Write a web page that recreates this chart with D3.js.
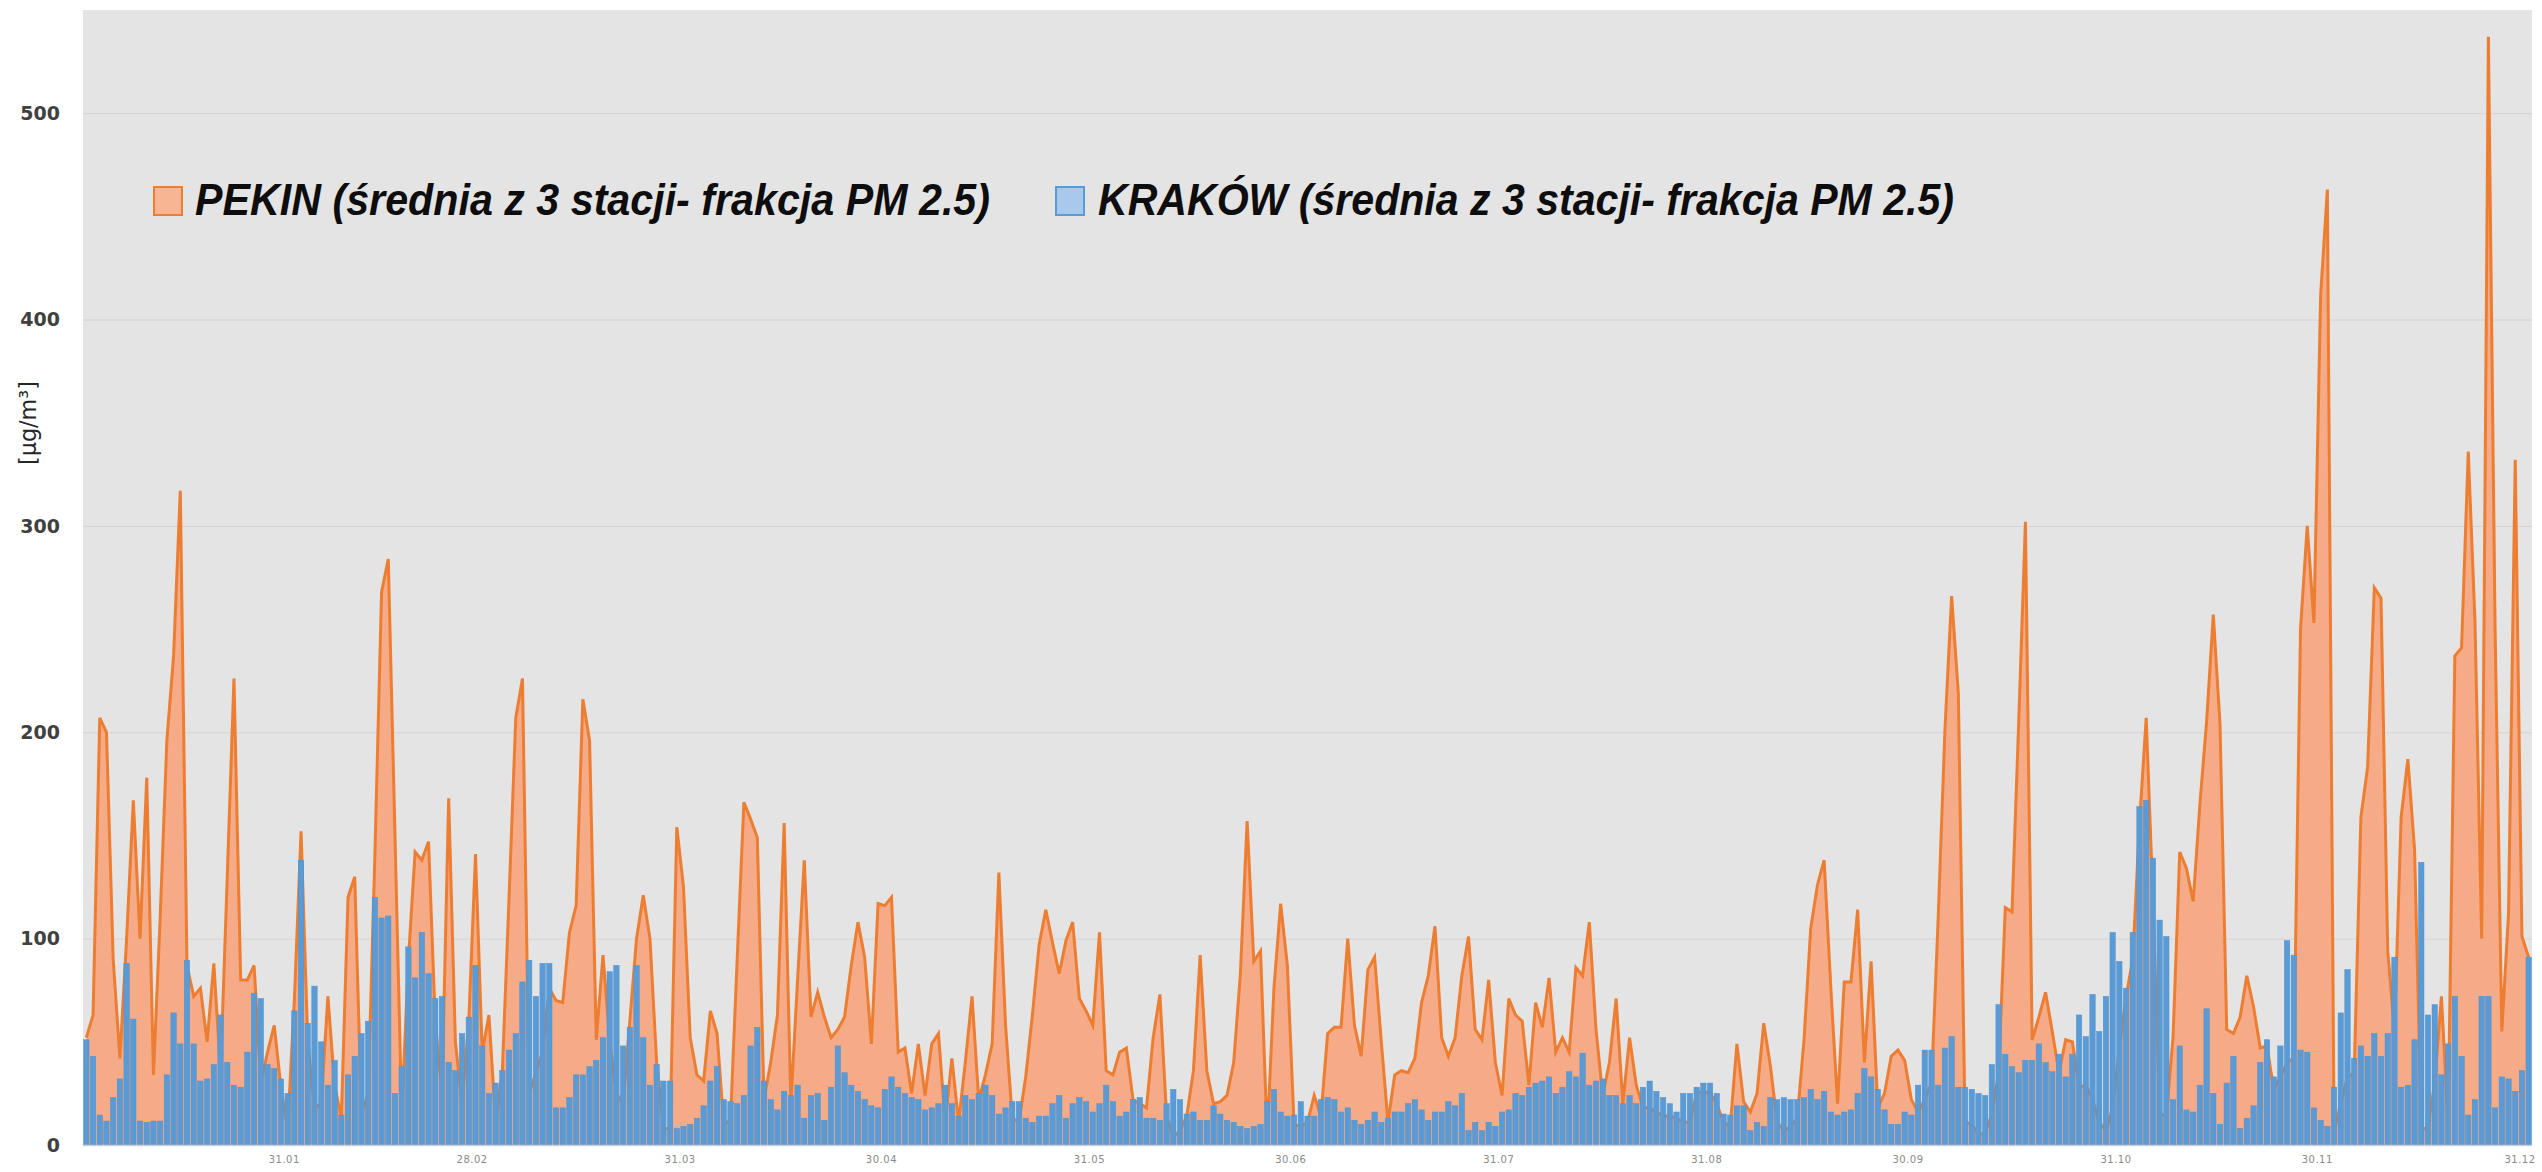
<!DOCTYPE html>
<html>
<head>
<meta charset="utf-8">
<script src="https://cdn.jsdelivr.net/npm/d3@7/dist/d3.min.js"></script>
<style>
body { margin: 0; background: #fff; }
svg { display: block; }
</style>
</head>
<body>
<svg id="chart" width="2542" height="1172"></svg>
<script>
// daily PM2.5, one value per day of the year
var pekin = [
  52, 63, 207, 200, 90, 42, 100, 167, 100, 178, 34, 110, 196, 237, 317, 87, 72, 76, 50, 88,
  35, 130, 226, 80, 80, 87, 30, 45, 58, 28, 8, 70, 152, 50, 18, 20, 72, 29, 13, 120,
  130, 15, 25, 140, 268, 284, 150, 15, 90, 142, 138, 147, 60, 25, 168, 50, 20, 60, 141, 45,
  63, 11, 36, 120, 207, 226, 25, 35, 45, 76, 70, 69, 103, 116, 216, 196, 51, 92, 50, 25,
  20, 60, 100, 121, 100, 40, 8, 8, 154, 125, 52, 34, 31, 65, 54, 10, 12, 90, 166, 158,
  149, 22, 40, 63, 156, 20, 80, 138, 62, 74, 62, 52, 56, 62, 87, 108, 91, 49, 117, 116,
  120, 45, 47, 25, 49, 24, 49, 54, 11, 42, 11, 40, 72, 22, 34, 49, 132, 58, 13, 11,
  33, 63, 97, 114, 98, 83, 99, 108, 71, 65, 58, 103, 36, 34, 45, 47, 22, 20, 18, 52,
  73, 14, 4, 7, 14, 36, 92, 36, 20, 21, 24, 40, 83, 157, 89, 94, 4, 76, 117, 87,
  10, 9, 11, 24, 14, 54, 57, 57, 100, 58, 43, 85, 91, 50, 11, 34, 36, 35, 42, 69,
  82, 106, 52, 43, 52, 82, 101, 56, 51, 80, 40, 24, 71, 63, 60, 29, 69, 57, 81, 45,
  52, 45, 86, 82, 108, 56, 24, 40, 71, 20, 52, 29, 18, 18, 16, 14, 14, 13, 11, 11,
  25, 26, 25, 20, 11, 9, 49, 21, 16, 25, 59, 38, 11, 7, 9, 13, 51, 105, 126, 138,
  76, 20, 79, 79, 114, 40, 89, 18, 25, 43, 46, 41, 22, 16, 22, 30, 110, 201, 266, 219,
  11, 10, 5, 6, 15, 35, 115, 113, 205, 302, 51, 62, 74, 55, 35, 51, 50, 28, 29, 22,
  11, 7, 18, 47, 72, 90, 156, 207, 120, 15, 14, 52, 142, 134, 118, 165, 205, 257, 204, 56,
  54, 62, 82, 67, 47, 48, 27, 33, 40, 42, 250, 300, 253, 412, 463, 7, 20, 33, 35, 159,
  183, 270, 265, 94, 55, 159, 187, 143, 7, 9, 30, 72, 10, 237, 241, 336, 254, 100, 537, 250,
  55, 112, 332, 101, 91
];
var krakow = [
  51, 43, 14.5, 11.6, 23, 32, 88, 61, 11.6, 11, 11.6, 11.6, 34, 64, 49, 89.5, 49, 31, 32, 39,
  63, 40, 29, 28, 45, 73.5, 71, 39, 37, 32, 25, 65, 138, 59, 77, 50, 29, 41, 14.5, 34,
  43, 54, 60, 120, 110, 111, 25, 38, 96, 81, 103, 83, 71, 72, 40, 36, 54, 62, 87, 48,
  25, 30, 36, 46, 54, 79, 89.5, 72, 88, 88, 18, 18, 23, 34, 34, 38, 41, 52, 84, 87,
  48, 57, 87, 52, 29, 39, 31, 31, 8, 9, 10, 13, 19, 31, 38, 22, 21, 20, 24, 48,
  57, 31, 22, 17, 26, 24, 29, 13, 24, 25, 12, 28, 48, 35, 29, 26, 22, 19, 18, 27,
  33, 28, 25, 23, 22, 17, 18, 20, 29, 20, 14, 24, 22, 25, 29, 24, 15, 18, 21, 21,
  13, 11, 14, 14, 20, 24, 13, 20, 23, 21, 16, 20, 29, 21, 14, 16, 22, 23, 13, 13,
  12, 20, 27, 22, 15, 16, 12, 12, 19, 15, 12, 11, 9, 8, 9, 10, 21, 27, 16, 14,
  14.5, 21, 14, 14, 22, 23, 22, 16, 18, 12, 10, 12, 16, 11, 13, 16, 16, 20, 22, 17,
  12, 16, 16, 21, 19, 25, 7, 11, 7, 11, 9, 16, 17, 25, 24, 28, 30, 31, 33, 25,
  28, 35.5, 33, 44.5, 29, 31, 32, 24, 24, 20, 24, 20, 28, 31, 26, 23, 20, 16, 25, 25,
  28, 30, 30, 25, 15, 14.5, 19, 19, 7, 11, 9, 23, 22, 23, 22, 22, 23, 27, 22, 26,
  16, 14.5, 16, 17, 25, 37, 33, 27, 17, 10, 10, 16, 14.5, 29, 46, 46, 29, 47, 52.5, 28,
  28, 27, 25, 24, 39, 68, 44, 38, 35, 41, 41, 49, 40, 35.5, 44, 33, 44, 63, 52.5, 73,
  55, 72, 103, 89, 76, 103, 164, 167, 139, 109, 101, 22, 48, 17, 16, 29, 66, 25, 10, 30,
  43, 8, 13, 19, 40, 51, 33, 48, 99, 92, 46, 45, 18, 12, 9, 28, 64, 85, 42, 48,
  43, 54, 43, 54, 91, 28, 29, 51, 137, 63, 68, 34, 49, 72, 43, 14.5, 22, 72, 72, 18,
  33, 32, 26, 36, 91
];
var seriesNames = ["PEKIN (średnia z 3 stacji- frakcja PM 2.5)", "KRAKÓW (średnia z 3 stacji- frakcja PM 2.5)"];
var tickDays = [30, 58, 89, 119, 150, 180, 211, 242, 272, 303, 333, 364];
var tickLabels = ["31.01", "28.02", "31.03", "30.04", "31.05", "30.06", "31.07", "31.08", "30.09", "31.10", "30.11", "31.12"];
var yTicks = [0, 100, 200, 300, 400, 500];
var yLabel = "[µg/m³]";

var svg, x, y, plot, area, line, legend;
var plotLeft = 83, plotRight = 2532, plotTop = 10, plotBottom = 1145;

svg = d3.select("#chart");

x = d3.scaleBand().domain(d3.range(pekin.length)).range([plotLeft, plotRight]).paddingInner(0.2).paddingOuter(0.1);
y = d3.scaleLinear().domain([0, 550]).range([plotBottom, plotTop]);

var cx = function(d, i) { return x(i) + x.bandwidth() / 2; };

// plot background
svg.append("rect")
  .attr("x", plotLeft).attr("y", plotTop)
  .attr("width", plotRight - plotLeft).attr("height", plotBottom - plotTop)
  .attr("fill", "#e4e4e4");

// gridlines
svg.append("g").selectAll("line")
  .data(yTicks.slice(1))
  .enter().append("line")
  .attr("x1", plotLeft).attr("x2", plotRight)
  .attr("y1", function(d) { return y(d) + 0.5; })
  .attr("y2", function(d) { return y(d) + 0.5; })
  .attr("stroke", "#d3d3d3").attr("stroke-width", 1);

plot = svg.append("g");

area = d3.area()
  .x(cx)
  .y0(y(0))
  .y1(function(d) { return y(d); });

line = d3.line()
  .x(cx)
  .y(function(d) { return y(d); });

plot.append("path")
  .datum(pekin)
  .attr("d", area)
  .attr("fill", "#f5ab88");

plot.append("path")
  .datum(pekin)
  .attr("d", line)
  .attr("fill", "none")
  .attr("stroke", "#ed7d31")
  .attr("stroke-width", 3)
  .attr("stroke-linejoin", "miter");

plot.selectAll("rect.bar")
  .data(krakow)
  .enter().append("rect")
  .attr("class", "bar")
  .attr("x", function(d, i) { return x(i); })
  .attr("y", function(d) { return y(d); })
  .attr("width", x.bandwidth())
  .attr("height", function(d) { return y(0) - y(d); })
  .attr("fill", "#5b9bd5")
  .attr("stroke", "#4f8fcc")
  .attr("stroke-width", 0.5);

// baseline
svg.append("line")
  .attr("x1", plotLeft).attr("x2", plotRight)
  .attr("y1", plotBottom + 0.5).attr("y2", plotBottom + 0.5)
  .attr("stroke", "#c9cfd8").attr("stroke-width", 1.5);

// y axis labels
svg.append("g").selectAll("text")
  .data(yTicks)
  .enter().append("text")
  .attr("x", 60)
  .attr("y", function(d) { return y(d); })
  .attr("dy", "0.36em")
  .attr("text-anchor", "end")
  .attr("font-family", "DejaVu Sans, sans-serif")
  .attr("font-weight", "bold")
  .attr("font-size", 19)
  .attr("fill", "#404040")
  .text(function(d) { return d; });

svg.append("text")
  .attr("transform", "translate(36,423) rotate(-90)")
  .attr("text-anchor", "middle")
  .attr("font-family", "DejaVu Sans Condensed, DejaVu Sans, sans-serif")
  .attr("font-size", 23)
  .attr("fill", "#262626")
  .attr("textLength", 84)
  .attr("lengthAdjust", "spacingAndGlyphs")
  .text(yLabel);

// x tick labels, centred on the start of the day's band (kept inside the page)
svg.append("g").selectAll("text")
  .data(tickDays)
  .enter().append("text")
  .attr("x", function(d) { return Math.min(x(d) - (x.step() - x.bandwidth()) / 2, 2520); })
  .attr("y", 1163)
  .attr("text-anchor", "middle")
  .attr("font-family", "DejaVu Sans, sans-serif")
  .attr("font-size", 10)
  .attr("letter-spacing", 0.5)
  .attr("fill", "#8a8a8a")
  .text(function(d, i) { return tickLabels[i]; });

// legend
legend = svg.append("g");
var legendItems = [
  {name: seriesNames[0], box: 154, text: 195, len: 795, fill: "#f7b594", stroke: "#ed7d31"},
  {name: seriesNames[1], box: 1056, text: 1098, len: 856, fill: "#a9c9ea", stroke: "#5b9bd5"}
];
legendItems.forEach(function(it) {
  legend.append("rect")
    .attr("x", it.box).attr("y", 187)
    .attr("width", 28).attr("height", 28)
    .attr("fill", it.fill)
    .attr("stroke", it.stroke)
    .attr("stroke-width", 2);
  legend.append("text")
    .attr("x", it.text).attr("y", 215)
    .attr("font-family", "Liberation Sans, Arial, sans-serif")
    .attr("font-weight", "bold")
    .attr("font-style", "italic")
    .attr("font-size", 44)
    .attr("fill", "#0d0d0d")
    .attr("textLength", it.len)
    .attr("lengthAdjust", "spacingAndGlyphs")
    .text(it.name);
});
</script>
</body>
</html>
